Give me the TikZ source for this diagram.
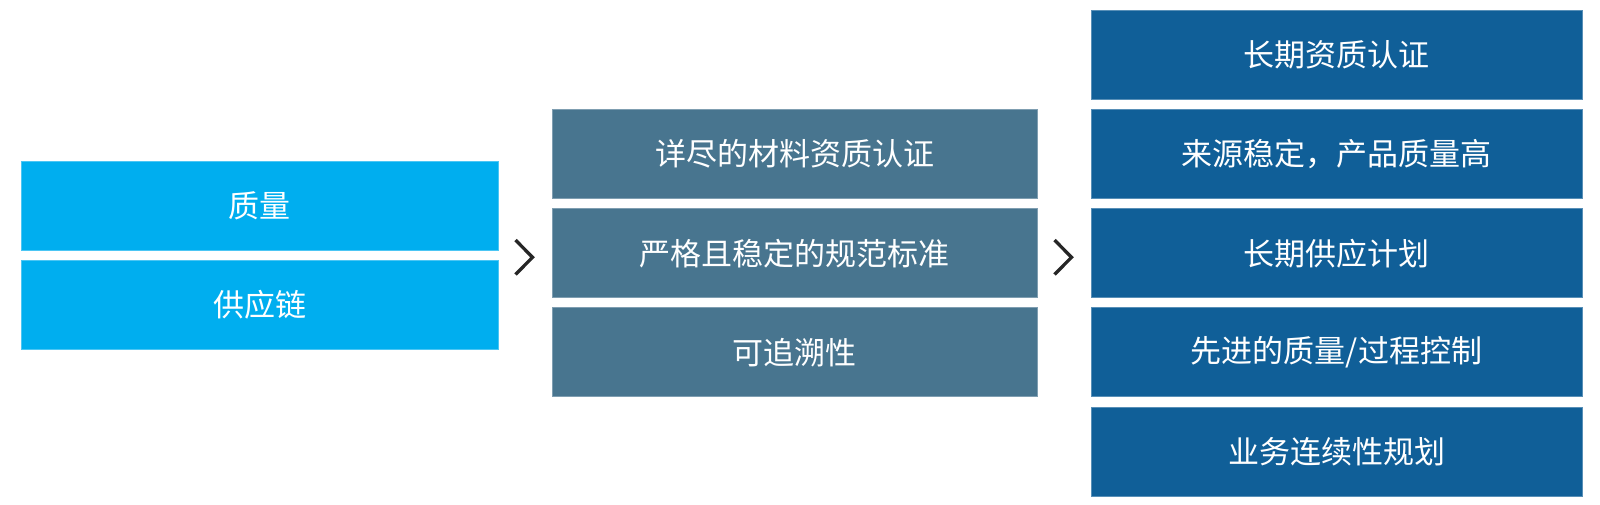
\documentclass[tikz,border=0pt]{standalone}
\usepackage{fontspec}
\setmainfont{Noto Sans CJK SC}
\begin{document}
\begin{tikzpicture}[x=1pt,y=-1pt,
  box/.style={draw=#1!70!white,line width=0.6pt,fill=#1,text=white,inner sep=0pt,font=\fontsize{31}{36}\selectfont},
  chev/.style={draw=black!85,line width=3.3pt,line cap=butt,line join=miter}]
\definecolor{cLeft}{RGB}{0,174,239}
\definecolor{cMid}{RGB}{72,117,143}
\definecolor{cRight}{RGB}{16,95,152}
\useasboundingbox (0,0) rectangle (1600,504);
% left
\node[box=cLeft,minimum width=477pt,minimum height=88.5pt] (l1) at (259.5,205.9) {质量};
\node[box=cLeft,minimum width=477pt,minimum height=88.5pt] (l2) at (259.5,305) {供应链};
% middle
\node[box=cMid,minimum width=485pt,minimum height=89pt] (m1) at (794.5,153.8) {详尽的材料资质认证};
\node[box=cMid,minimum width=485pt,minimum height=89pt] (m2) at (794.5,253.2) {严格且稳定的规范标准};
\node[box=cMid,minimum width=485pt,minimum height=89pt] (m3) at (794.5,352.2) {可追溯性};
% right
\node[box=cRight,minimum width=491pt,minimum height=89pt] (r1) at (1336.5,54.5) {长期资质认证};
\node[box=cRight,minimum width=491pt,minimum height=89pt] (r2) at (1336.5,153.8) {来源稳定，产品质量高};
\node[box=cRight,minimum width=491pt,minimum height=89pt] (r3) at (1336.5,253.2) {长期供应计划};
\node[box=cRight,minimum width=491pt,minimum height=89pt] (r4) at (1336.5,352.2) {先进的质量/过程控制};
\node[box=cRight,minimum width=491pt,minimum height=89pt] (r5) at (1336.5,451.4) {业务连续性规划};
% chevrons
\coordinate (c1a) at (515.5,240);
\coordinate (c1b) at (532.5,257.3);
\coordinate (c1c) at (515.5,274.5);
\draw[chev] (c1a) -- (c1b) -- (c1c);
\coordinate (c2a) at (1054.5,240);
\coordinate (c2b) at (1071.5,257.3);
\coordinate (c2c) at (1054.5,274.5);
\draw[chev] (c2a) -- (c2b) -- (c2c);
\end{tikzpicture}
\end{document}
